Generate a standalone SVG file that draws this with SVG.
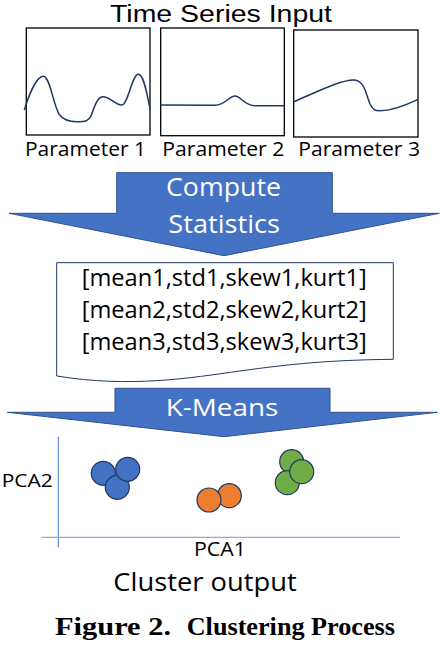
<svg xmlns="http://www.w3.org/2000/svg" width="440" height="648" viewBox="0 0 440 648">
<style>
.t{font-family:"Open Sans","Noto Sans","Liberation Sans",sans-serif;fill:#000}
.w{fill:#fff}
.box{fill:#fff;stroke:#000;stroke-width:1.3}
.curve{fill:none;stroke:#1F3864;stroke-width:1.5}
.arrow{fill:#4472C4;stroke:#2F528F;stroke-width:1}
.doc{fill:#fff;stroke:#203864;stroke-width:1}
.dot{stroke:#1F3864;stroke-width:1.2}
.cap{font-family:"Liberation Serif","Times New Roman",serif;font-weight:bold;fill:#000}
</style>
<rect width="440" height="648" fill="#fff"/>
<g id="title"><text x="110" y="21.5" font-family="'Liberation Sans',Arial,sans-serif" font-size="23" textLength="222" lengthAdjust="spacingAndGlyphs" fill="#000">Time Series Input</text></g>
<g id="param1">
<rect class="box" x="26.3" y="28" width="123.7" height="107"/>
<path class="curve" d="M24.3,110 C28,98 36,76.3 43.3,76.3 C50,76.3 53,104 59,114 C63,120 70,121.7 77,121.7 C85,121.7 89,121 91,116 C94,108 97,96.7 103,96.7 C110,96.7 115,105 121.7,105 C128,105 132,74.3 138.3,74.3 C144,74.3 147,95 150,108.3"/>
<text class="t" x="25" y="156" font-size="20" textLength="121" lengthAdjust="spacingAndGlyphs">Parameter 1</text>
</g>
<g id="param2">
<rect class="box" x="160.7" y="28" width="123.6" height="107.7"/>
<path class="curve" d="M160.7,105 L215,105.3 C225,105.3 229,96 235,96 C241,96 244,105.7 255,105.7 L284.3,105.7"/>
<text class="t" x="162.3" y="156" font-size="20" textLength="122" lengthAdjust="spacingAndGlyphs">Parameter 2</text>
</g>
<g id="param3">
<rect class="box" x="293.7" y="30" width="124.3" height="107"/>
<path class="curve" d="M293.7,101.7 C315,93 340,80 353.3,80 C365,80 366,95 370,104 C373,110 375,110.7 380,110.7 C395,110.7 410,103 418,99.3"/>
<text class="t" x="298.3" y="156" font-size="20" textLength="121.7" lengthAdjust="spacingAndGlyphs">Parameter 3</text>
</g>
<g id="connectors">
<g id="compute-arrow">
<polygon class="arrow" points="116.7,172.7 332.3,172.7 332.3,213.3 439.3,213.3 224,255.7 9,213.3 116.7,213.3"/>
<text class="t w" x="166" y="195.5" font-size="26" textLength="115" lengthAdjust="spacingAndGlyphs">Compute</text>
<text class="t w" x="168.3" y="233" font-size="26" textLength="111.7" lengthAdjust="spacingAndGlyphs">Statistics</text>
</g>
<g id="kmeans-arrow">
<polygon class="arrow" points="115,388.3 330,388.3 330,412.3 437.3,412.3 224,436.7 7.3,412.3 115,412.3"/>
<text class="t w" x="165.7" y="416" font-size="24" textLength="112.6" lengthAdjust="spacingAndGlyphs">K-Means</text>
</g>
</g>
<g id="stats">
<path class="doc" d="M56.7,262.7 L393.3,262.7 L393.3,359.3 C330,360 290,364 240,371 C190,378 130,388 56.7,376 Z"/>
<text class="t" x="81.7" y="286" font-size="23" textLength="285" lengthAdjust="spacingAndGlyphs">[mean1,std1,skew1,kurt1]</text>
<text class="t" x="81.7" y="318" font-size="23" textLength="285" lengthAdjust="spacingAndGlyphs">[mean2,std2,skew2,kurt2]</text>
<text class="t" x="81.7" y="350" font-size="23" textLength="285" lengthAdjust="spacingAndGlyphs">[mean3,std3,skew3,kurt3]</text>
</g>
<g id="cluster-plot">
<line x1="58.3" y1="436.7" x2="58.3" y2="547.3" stroke="#4472C4" stroke-width="1"/>
<line x1="41.7" y1="537.3" x2="400" y2="537.3" stroke="#8EA9DB" stroke-width="1.2"/>
<text class="t" x="1.7" y="486.7" font-size="19" textLength="51" lengthAdjust="spacingAndGlyphs">PCA2</text>
<text class="t" x="194" y="556" font-size="20" textLength="52" lengthAdjust="spacingAndGlyphs">PCA1</text>
<g fill="#4472C4">
<circle class="dot" cx="103.3" cy="473.3" r="12"/>
<circle class="dot" cx="117.3" cy="487.3" r="12"/>
<circle class="dot" cx="127.7" cy="469.3" r="12"/>
</g>
<g fill="#ED7D31">
<circle class="dot" cx="229.3" cy="495.7" r="12"/>
<circle class="dot" cx="209" cy="500" r="12"/>
</g>
<g fill="#70AD47">
<circle class="dot" cx="291.7" cy="461.7" r="12"/>
<circle class="dot" cx="287.3" cy="482.7" r="12"/>
<circle class="dot" cx="301.7" cy="471.7" r="12"/>
</g>
<text class="t" x="113.3" y="590.7" font-size="25" textLength="183.4" lengthAdjust="spacingAndGlyphs">Cluster output</text>
</g>
<g id="caption">
<text class="cap" x="55" y="635.3" font-size="26" textLength="116" lengthAdjust="spacingAndGlyphs">Figure 2.</text>
<text class="cap" x="186.7" y="635.3" font-size="26" textLength="208.3" lengthAdjust="spacingAndGlyphs">Clustering Process</text>
</g>
</svg>
